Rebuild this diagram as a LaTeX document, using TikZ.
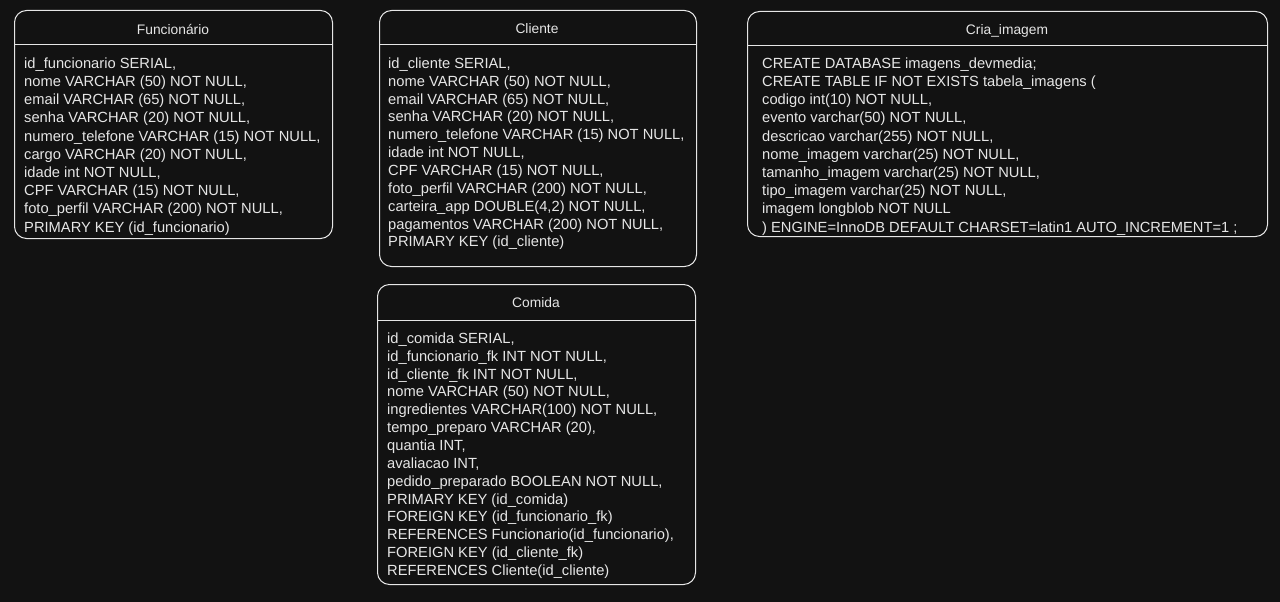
\documentclass[tikz,border=0pt]{standalone}
\usepackage{fontspec}
\setmainfont{Liberation Sans}
\definecolor{bg}{HTML}{121212}
\definecolor{ink}{HTML}{E6E6E6}
\begin{document}
\begin{tikzpicture}[x=1pt,y=-1pt,
  box/.style={draw=ink, line width=1pt, rounded corners=12pt, inner sep=0pt, anchor=north west},
  sep/.style={draw=ink, line width=1pt},
  title/.style={text=ink, font=\fontsize{13.8}{16}\selectfont, inner sep=0pt},
  body/.style={text=ink, align=left, anchor=north west, inner sep=0pt, font=\fontsize{14.7}{18.2}\selectfont},
  tightbody/.style={body, font=\fontsize{14.7}{17.85}\selectfont}]
\fill[bg] (0,0) rectangle (1280,602);
\useasboundingbox (0,0) rectangle (1280,602);

% Funcionario
\node[box, minimum width=318pt, minimum height=228pt] (func) at (14,10) {};
\draw[sep] (func.west |- 0,45) -- (func.east |- 0,45);
\node[title] (funcT) at (173,29) {Funcionário};
\node[body] (funcB) at (24,57.5) {id\_funcionario SERIAL,\\
nome VARCHAR (50) NOT NULL,\\
email VARCHAR (65) NOT NULL,\\
senha VARCHAR (20) NOT NULL,\\
numero\_telefone VARCHAR (15) NOT NULL,\\
cargo VARCHAR (20) NOT NULL,\\
idade int NOT NULL,\\
CPF VARCHAR (15) NOT NULL,\\
foto\_perfil VARCHAR (200) NOT NULL,\\
PRIMARY KEY (id\_funcionario)};

% Cliente
\node[box, minimum width=317pt, minimum height=256pt] (cli) at (379,10) {};
\draw[sep] (cli.west |- 0,45) -- (cli.east |- 0,45);
\node[title] (cliT) at (537,29) {Cliente};
\node[tightbody] (cliB) at (388,57.5) {id\_cliente SERIAL,\\
nome VARCHAR (50) NOT NULL,\\
email VARCHAR (65) NOT NULL,\\
senha VARCHAR (20) NOT NULL,\\
numero\_telefone VARCHAR (15) NOT NULL,\\
idade int NOT NULL,\\
CPF VARCHAR (15) NOT NULL,\\
foto\_perfil VARCHAR (200) NOT NULL,\\
carteira\_app DOUBLE(4,2) NOT NULL,\\
pagamentos VARCHAR (200) NOT NULL,\\
PRIMARY KEY (id\_cliente)};

% Cria_imagem
\node[box, minimum width=520pt, minimum height=225pt] (cria) at (747,11) {};
\draw[sep] (cria.west |- 0,46) -- (cria.east |- 0,46);
\node[title] (criaT) at (1007,31) {Cria\_imagem};
\node[body] (criaB) at (762,57.5) {CREATE DATABASE imagens\_devmedia;\\
CREATE TABLE IF NOT EXISTS tabela\_imagens (\\
codigo int(10) NOT NULL,\\
evento varchar(50) NOT NULL,\\
descricao varchar(255) NOT NULL,\\
nome\_imagem varchar(25) NOT NULL,\\
tamanho\_imagem varchar(25) NOT NULL,\\
tipo\_imagem varchar(25) NOT NULL,\\
imagem longblob NOT NULL\\
) ENGINE=InnoDB DEFAULT CHARSET=latin1 AUTO\_INCREMENT=1 ;};

% Comida
\node[box, minimum width=318pt, minimum height=300pt] (com) at (377,284) {};
\draw[sep] (com.west |- 0,320) -- (com.east |- 0,320);
\node[title] (comT) at (536,303) {Comida};
\node[tightbody] (comB) at (387,332.5) {id\_comida SERIAL,\\
id\_funcionario\_fk INT NOT NULL,\\
id\_cliente\_fk INT NOT NULL,\\
nome VARCHAR (50) NOT NULL,\\
ingredientes VARCHAR(100) NOT NULL,\\
tempo\_preparo VARCHAR (20),\\
quantia INT,\\
avaliacao INT,\\
pedido\_preparado BOOLEAN NOT NULL,\\
PRIMARY KEY (id\_comida)\\
FOREIGN KEY (id\_funcionario\_fk)\\
REFERENCES Funcionario(id\_funcionario),\\
FOREIGN KEY (id\_cliente\_fk)\\
REFERENCES Cliente(id\_cliente)};
\end{tikzpicture}
\end{document}
